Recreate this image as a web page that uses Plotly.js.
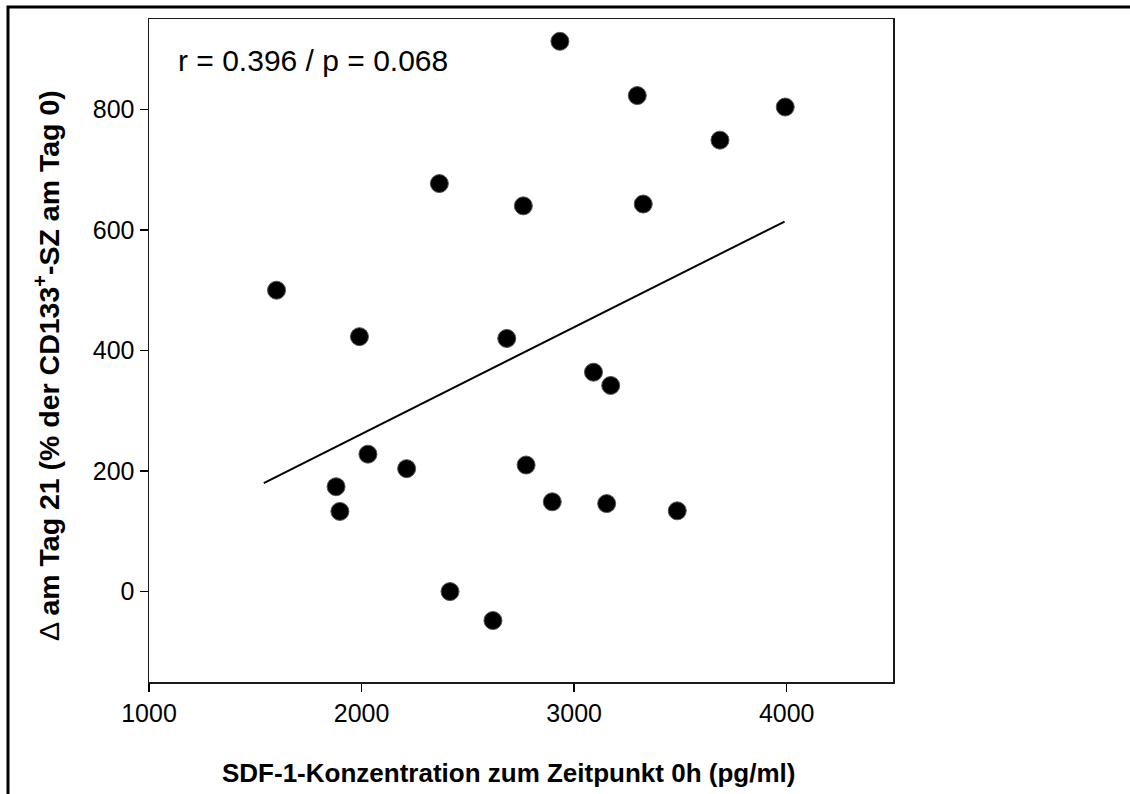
<!DOCTYPE html>
<html>
<head>
<meta charset="utf-8">
<script src="https://cdn.plot.ly/plotly-3.0.1.min.js"></script>
<style>
  html, body { margin: 0; padding: 0; background: #ffffff; }
  #chart { width: 1130px; height: 794px; }
</style>
</head>
<body>
<div id="chart"></div>
<script>
// SDF-1 concentration at 0h (pg/ml)
const sdf1Conc = [1600, 1990, 1880, 1898, 2030, 2212, 2366, 2416, 2618, 2683, 2761,
                  2774, 2897, 2933, 3091, 3172, 3153, 3297, 3325, 3485, 3686, 3993];
// Change at day 21 (% of CD133+ cells at day 0)
const deltaDay21 = [500, 423, 174, 133, 228, 204, 677, 0, -48, 420, 640,
                    210, 149, 913, 364, 342, 146, 823, 643, 134, 749, 804];
// Regression line end points
const fitX = [1540, 3990];
const fitY = [180, 614];

const xTicks = [1000, 2000, 3000, 4000];
const yTicks = [0, 200, 400, 600, 800];
const statText = 'r = 0.396 / p = 0.068';
const xTitle = '<b>SDF-1-Konzentration zum Zeitpunkt 0h (pg/ml)</b>';
const yTitle = '\u0394 <b>am Tag 21 (% der CD133<sup>+</sup>-SZ am Tag 0)</b>';

const font = 'Liberation Sans, Arial, Helvetica, sans-serif';

const traces = [
  {
    x: fitX, y: fitY, type: 'scatter', mode: 'lines',
    line: { color: '#000000', width: 2 },
    hoverinfo: 'skip', showlegend: false
  },
  {
    x: sdf1Conc, y: deltaDay21, type: 'scatter', mode: 'markers',
    marker: { color: '#000000', size: 18, line: { color: '#555555', width: 1 } },
    showlegend: false
  }
];

const L = 149, R = 893, T = 19, B = 682;
const W = 1130, H = 794;
const pw = R - L, ph = B - T;
const px = v => (v - L) / pw;
const py = v => (B - v) / ph;

const layout = {
  width: W, height: H,
  margin: { l: L, r: W - R, t: T, b: H - B, pad: 0 },
  paper_bgcolor: '#ffffff', plot_bgcolor: '#ffffff',
  font: { family: font, color: '#000000', size: 25 },
  showlegend: false,
  xaxis: {
    range: [1000, 4500], tickvals: xTicks, ticktext: xTicks.map(String),
    ticks: 'outside', ticklen: 8, tickwidth: 1.5, tickcolor: '#000000',
    showline: true, linecolor: '#1a1a1a', linewidth: 1.5, mirror: true,
    showgrid: false, zeroline: false,
    tickfont: { size: 25, family: font, color: '#000000' },
    automargin: false
  },
  yaxis: {
    range: [-150, 950], tickvals: yTicks, ticktext: yTicks.map(String),
    ticks: 'outside', ticklen: 8, tickwidth: 1.5, tickcolor: '#000000',
    showline: true, linecolor: '#1a1a1a', linewidth: 1.5, mirror: true,
    showgrid: false, zeroline: false,
    tickfont: { size: 25, family: font, color: '#000000' },
    automargin: false
  },
  annotations: [
    {
      xref: 'paper', yref: 'paper', x: px(176), y: py(60),
      xanchor: 'left', yanchor: 'middle', showarrow: false,
      text: statText, font: { size: 30, family: font, color: '#000000' }
    },
    {
      xref: 'paper', yref: 'paper', x: px(508), y: py(773),
      xanchor: 'center', yanchor: 'middle', showarrow: false,
      text: xTitle, font: { size: 26, family: font, color: '#000000' }
    },
    {
      xref: 'paper', yref: 'paper', x: px(47), y: py(366),
      xanchor: 'center', yanchor: 'middle', showarrow: false, textangle: -90,
      text: yTitle, font: { size: 28.5, family: font, color: '#000000' }
    }
  ],
  shapes: [
    {
      type: 'path', xref: 'paper', yref: 'paper', layer: 'above',
      path: 'M ' + px(8) + ' ' + py(H + 5) + ' L ' + px(8) + ' ' + py(7) + ' L ' + px(W + 5) + ' ' + py(7),
      line: { color: '#000000', width: 3 }
    }
  ]
};

Plotly.newPlot('chart', traces, layout, { staticPlot: true, displayModeBar: false });
</script>
</body>
</html>
